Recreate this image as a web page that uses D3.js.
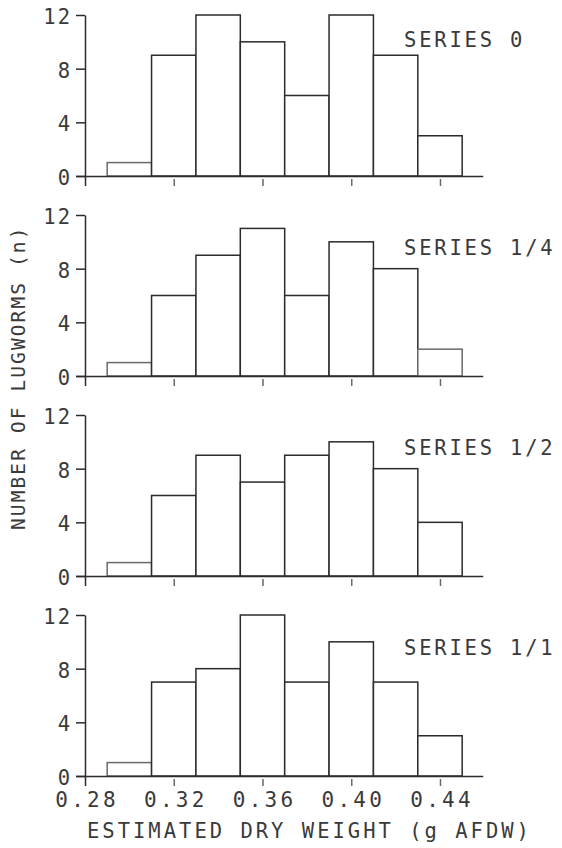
<!DOCTYPE html>
<html>
<head>
<meta charset="utf-8">
<script src="https://cdn.jsdelivr.net/npm/d3@7"></script>
<style>
  html, body { margin: 0; padding: 0; background: #fff; }
  svg { display: block; }
  text { font-family: "DejaVu Sans Mono", "Liberation Mono", monospace; fill: #3a3a3a; }
</style>
</head>
<body>
<svg id="chart" width="562" height="848"></svg>
<script>
// Bin edges of estimated dry weight (g AFDW)
const binEdges = [0.29, 0.31, 0.33, 0.35, 0.37, 0.39, 0.41, 0.43, 0.45];
const seriesNames = ["SERIES 0", "SERIES 1/4", "SERIES 1/2", "SERIES 1/1"];
// Counts of lugworms per weight bin
const series0 = [1, 9, 12, 10, 6, 12, 9, 3];
const series14 = [1, 6, 9, 11, 6, 10, 8, 2];
const series12 = [1, 6, 9, 7, 9, 10, 8, 4];
const series11 = [1, 7, 8, 12, 7, 10, 7, 3];
const yTicks = [0, 4, 8, 12];
const xTicks = [0.28, 0.32, 0.36, 0.40, 0.44];
const xLabel = "ESTIMATED DRY WEIGHT (g AFDW)";
const yLabel = "NUMBER OF LUGWORMS (n)";

const allSeries = [series0, series14, series12, series11];

const svg = d3.select("#chart");
const ink = "#2b2b2b";
const faint = "#6a6a6a";

const x = d3.scaleLinear().domain([0.28, 0.44]).range([85, 440]);
const panelTop0 = 15, panelStep = 200, panelHeight = 161;
const labelOffsets = [32, 40, 40, 40];

allSeries.forEach((values, i) => {
  const top = panelTop0 + i * panelStep;
  const y = d3.scaleLinear().domain([0, 12]).range([top + panelHeight, top]);
  const g = svg.append("g");
  const zero = y(0);

  // bars as outlined rectangles
  const bins = values.map((v, j) => ({ x0: binEdges[j], x1: binEdges[j + 1], v }));
  g.selectAll("rect.bar").data(bins).join("rect")
    .attr("class", "bar")
    .attr("x", d => x(d.x0))
    .attr("y", d => y(d.v))
    .attr("width", d => x(d.x1) - x(d.x0))
    .attr("height", d => zero - y(d.v))
    .attr("fill", "#fff")
    .attr("stroke", d => d.v <= 2 ? faint : ink)
    .attr("stroke-width", 1.5);

  // y axis
  const yAxis = d3.axisLeft(y).tickValues(yTicks).tickSize(9).tickSizeOuter(0).tickPadding(6);
  const ya = g.append("g").attr("transform", "translate(85,0)").call(yAxis);
  ya.select(".domain").attr("stroke", ink).attr("stroke-width", 1.5);
  ya.selectAll(".tick line").attr("stroke", ink).attr("stroke-width", 1.5);
  ya.selectAll(".tick text")
    .attr("font-size", 20.5)
    .attr("letter-spacing", "2px")
    .attr("x", -13)
    .attr("dy", "0.42em")
    .attr("fill", "#3a3a3a");

  // x axis
  const xAxis = d3.axisBottom(x).tickValues(xTicks).tickSize(10).tickSizeOuter(0)
    .tickFormat(d3.format(".2f"));
  const xa = g.append("g").attr("transform", `translate(0,${zero})`).call(xAxis);
  xa.select(".domain").attr("d", `M76,0.5H${x(0.4595)}`).attr("stroke", ink).attr("stroke-width", 1.5);
  xa.selectAll(".tick line")
    .attr("y1", (d, k) => k === 0 ? 0 : 3)
    .attr("stroke", (d, k) => k === 0 ? ink : faint)
    .attr("stroke-width", 1.5);
  if (i === allSeries.length - 1) {
    xa.selectAll(".tick text")
      .attr("font-size", 21)
      .attr("letter-spacing", "3.3px")
      .attr("dx", "1.6px")
      .attr("y", 31)
      .attr("dy", 0)
      .attr("fill", "#3a3a3a");
  } else {
    xa.selectAll(".tick text").remove();
  }

  // series label
  g.append("text")
    .attr("x", 404)
    .attr("y", top + labelOffsets[i])
    .attr("font-size", 20.5)
    .attr("letter-spacing", "2.8px")
    .text(seriesNames[i]);
});

// x axis title
svg.append("text")
  .attr("x", 87)
  .attr("y", 838)
  .attr("font-size", 20.5)
  .attr("letter-spacing", "3.0px")
  .text(xLabel);

// y axis title
svg.append("text")
  .attr("transform", "translate(25,530) rotate(-90)")
  .attr("font-size", 19.5)
  .attr("letter-spacing", "2.1px")
  .text(yLabel);
</script>
</body>
</html>
